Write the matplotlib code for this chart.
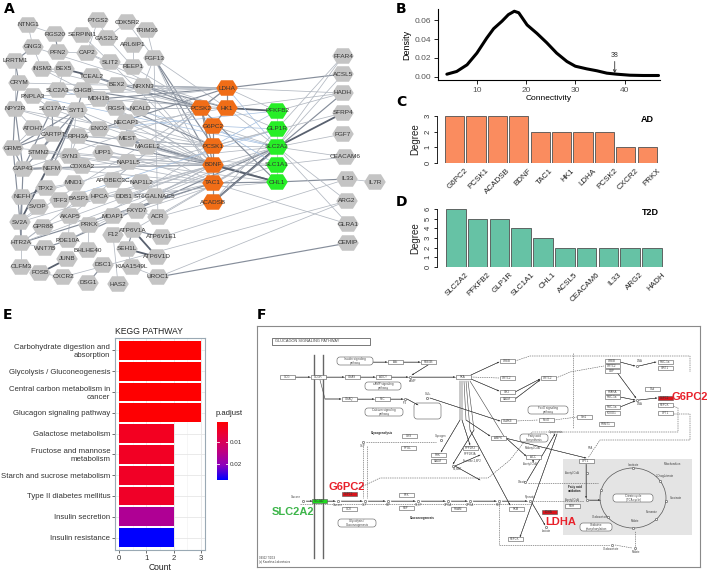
import matplotlib
matplotlib.use("Agg")
import matplotlib.pyplot as plt
import numpy as np
from matplotlib.colors import LinearSegmentedColormap, Normalize
from matplotlib.patches import Rectangle, FancyBboxPatch, Ellipse
from matplotlib.path import Path

plt.rcParams["font.family"] = ["Liberation Sans", "DejaVu Sans"]

W, H = 708, 573

# ---------------- A: PPI network ----------------
grey_nodes = ["NTNG1", "RGS20", "SERPINI1", "PTGS2", "CDK5R2", "TRIM36", "GAS2L3", "ARL6IP1",
              "GNG3", "PFN2", "CAP2", "FGF13", "SLIT2", "REEP1", "LRRTM1", "INSM2", "BEX5", "TCEAL2",
              "CRYM", "SLC2A3", "BEX2", "NRXN3", "CHGB", "PNPLA3", "MDH1B", "NPY2R", "SLC17A7", "SYT1",
              "RGS4", "NCALD", "NECAP1", "ATOH7", "CARTPT", "RPH3A", "ENO2", "MEST", "MAGEL2", "GRM5",
              "STMN2", "SYN3", "UPP1", "NAP1L5", "GAP43", "NEFM", "COX6A2", "APOBEC3C", "NAP1L2", "MND1",
              "TPX2", "NEFH", "TFF3", "BASP1", "HPCA", "DDB1", "ST6GALNAC5", "SVOP", "SV2A", "AKAP5",
              "MOAP1", "FXYD7", "ACR", "GPR88", "PRKX", "ATP6V1A", "ATP6V1E1", "HTR2A", "WNT7B", "PDE10A",
              "F12", "BHLHE40", "SEH1L", "ATP6V1D", "JUNB", "OLFM3", "FOSB", "DSC1", "KIAA1549L", "CXCR2",
              "DSG1", "HAS2", "UROC1",
              "FFAR4", "ACSL5", "HADH", "SFRP4", "FGF7", "CEACAM6", "IL33", "IL7R", "ARG2", "GLRA1", "CEMIP"]
grey_x = [28, 55, 82, 98, 127, 147, 107, 133,
          33, 58, 87, 154, 110, 133, 15, 42, 64, 92,
          19, 58, 117, 143, 83, 33, 99, 15, 52, 77,
          116, 140, 126, 33, 53, 78, 99, 127, 147, 13,
          39, 70, 103, 128, 23, 52, 82, 113, 141, 74,
          46, 22, 60, 79, 99, 124, 155, 38, 20, 70,
          113, 137, 158, 43, 89, 133, 162, 21, 45, 68,
          113, 88, 127, 157, 67, 21, 40, 103, 132, 63,
          88, 118, 158,
          343, 343, 343, 343, 343, 345, 347, 375, 347, 348, 348]
grey_y = [25, 34, 35, 20, 22, 30, 38, 45,
          47, 52, 53, 58, 62, 67, 61, 69, 69, 76,
          83, 90, 85, 86, 90, 96, 99, 109, 109, 110,
          108, 108, 122, 128, 134, 136, 129, 139, 147, 148,
          152, 156, 153, 162, 169, 168, 166, 180, 182, 183,
          188, 197, 200, 199, 196, 196, 196, 207, 222, 216,
          216, 211, 217, 227, 225, 230, 237, 243, 248, 240,
          235, 250, 249, 257, 259, 267, 273, 265, 267, 277,
          283, 284, 277,
          56, 74, 93, 113, 134, 157, 179, 182, 201, 224, 243]
ad_nodes = ["LDHA", "PCSK2", "HK1", "G6PC2", "PCSK1", "BDNF", "TAC1", "ACADSB"]
ad_x = [227, 201, 227, 213, 213, 213, 213, 213]
ad_y = [88, 108, 108, 126, 146, 165, 183, 202]
t2d_nodes = ["PFKFB2", "GLP1R", "SLC2A2", "SLC1A1", "CHL1"]
t2d_x = [277, 277, 277, 277, 277]
t2d_y = [111, 129, 147, 165, 182]

# edges "a|b|weight"  (0 = faint blue, 1 light, 2 medium, 3 strong)
edges = """NTNG1|GNG3|1 GNG3|LRRTM1|2 LRRTM1|CRYM|2 CRYM|NPY2R|2 NPY2R|GRM5|2 GRM5|GAP43|2 GAP43|NEFH|2
NEFH|SV2A|2 SV2A|HTR2A|2 HTR2A|OLFM3|1 CRYM|PNPLA3|1 NPY2R|ATOH7|1 ATOH7|GRM5|1 GAP43|NEFM|3
NEFM|STMN2|1 STMN2|CARTPT|2 CARTPT|SLC17A7|2 SLC17A7|SYT1|2 SYT1|CHGB|2 CHGB|SLC2A3|1 SLC2A3|BEX5|1
BEX5|INSM2|1 INSM2|GNG3|1 PFN2|CAP2|1 RGS20|PFN2|2 RGS20|NTNG1|1 PTGS2|GAS2L3|1 CDK5R2|GAS2L3|1
CDK5R2|FGF13|1 TRIM36|FGF13|1 SERPINI1|SLIT2|1 SLIT2|REEP1|1 ARL6IP1|REEP1|1 TCEAL2|BEX2|2
BEX2|NRXN3|2 TCEAL2|BEX5|3 CHGB|MDH1B|1 MDH1B|RGS4|1 RGS4|NCALD|1 NECAP1|MEST|1 MEST|MAGEL2|2
ENO2|SYT1|2 ENO2|RPH3A|1 RPH3A|SYN3|1 SYN3|STMN2|1 UPP1|NAP1L5|1 COX6A2|NEFM|1 APOBEC3C|NAP1L2|1
MND1|TPX2|1 TPX2|NEFH|2 TFF3|BASP1|1 BASP1|HPCA|1 HPCA|DDB1|1 DDB1|ST6GALNAC5|1 SVOP|SV2A|1
AKAP5|PRKX|1 PRKX|MOAP1|1 MOAP1|FXYD7|1 FXYD7|ACR|1 GPR88|HTR2A|1 PDE10A|WNT7B|2 WNT7B|HTR2A|1
PDE10A|AKAP5|1 F12|SEH1L|1 SEH1L|ATP6V1A|2 ATP6V1A|ATP6V1E1|2 ATP6V1A|ATP6V1D|3 SEH1L|ATP6V1D|3
BHLHE40|PRKX|1 JUNB|FOSB|3 FOSB|OLFM3|1 FOSB|CXCR2|1 DSC1|DSG1|2 KIAA1549L|SEH1L|1 HAS2|F12|1
UROC1|KIAA1549L|1 SYT1|GRM5|2 CARTPT|GRM5|2 SLC17A7|GAP43|2 SV2A|SYT1|3 NEFM|SYT1|2 HTR2A|BASP1|1
LRRTM1|NPY2R|1 NPY2R|GAP43|2 GRM5|SV2A|2 NEFH|HTR2A|2 PNPLA3|SLC17A7|1 INSM2|CHGB|1 CAP2|SLIT2|1
PTGS2|CAP2|1 GAS2L3|REEP1|1 FGF13|ACR|1 FGF13|NRXN3|1 SYT1|STMN2|2 SYT1|SYN3|1 GAP43|STMN2|2
NRXN3|LDHA|2 NRXN3|PCSK2|2 NRXN3|HK1|2 NRXN3|BDNF|1 FGF13|PCSK1|2 FGF13|BDNF|2 FGF13|TAC1|1
FGF13|HK1|1 TCEAL2|PCSK2|2 BEX2|LDHA|1 MDH1B|LDHA|2 MDH1B|HK1|1 SLC2A3|LDHA|1 SLC2A3|SLC2A2|0
CHGB|PCSK2|2 CHGB|PCSK1|2 CHGB|BDNF|1 SYT1|BDNF|1 SLC17A7|BDNF|1 SLC17A7|LDHA|1 RGS4|BDNF|1
RGS4|PCSK2|1 NCALD|HK1|1 NCALD|PCSK1|1 NECAP1|PCSK1|1 NECAP1|BDNF|1 MEST|BDNF|2 MEST|PCSK1|1
MEST|CHL1|2 MAGEL2|PCSK1|1 MAGEL2|BDNF|1 MAGEL2|TAC1|1 ENO2|LDHA|2 ENO2|HK1|1 ENO2|PFKFB2|0
CARTPT|PCSK1|1 CARTPT|TAC1|1 CARTPT|BDNF|2 STMN2|BDNF|1 NEFM|BDNF|2 NEFM|TAC1|1 GAP43|BDNF|1
GAP43|PCSK2|1 COX6A2|SLC2A2|1 UPP1|SLC1A1|1 NAP1L5|BDNF|1 NAP1L2|TAC1|1 ST6GALNAC5|TAC1|1
ST6GALNAC5|SLC2A2|1 ST6GALNAC5|BDNF|1 DDB1|BDNF|1 HPCA|BDNF|1 ACR|ACADSB|1 ACR|SLC2A2|1
FXYD7|SLC1A1|1 MOAP1|TAC1|1 SV2A|PCSK2|1 SV2A|BDNF|1 HTR2A|TAC1|2 HTR2A|SLC2A2|1 GPR88|BDNF|1
PDE10A|BDNF|1 PDE10A|SLC2A2|2 PRKX|PCSK1|1 AKAP5|PCSK2|1 ATP6V1E1|IL33|1 ATP6V1A|SLC2A2|1
CXCR2|ARG2|1 UROC1|CEMIP|2 UROC1|ARG2|1 NPY2R|PCSK1|1 NPY2R|BDNF|1 CRYM|LDHA|1 PNPLA3|SLC2A2|0
PNPLA3|LDHA|1 INSM2|PCSK2|1 GNG3|HK1|1 SLIT2|BDNF|1 REEP1|PCSK2|1 CAP2|PCSK2|1 SYN3|CHL1|1
SYN3|TAC1|1 RPH3A|PCSK1|1 TFF3|GLP1R|0 APOBEC3C|LDHA|1 BASP1|CHL1|1 NEFH|PCSK1|1 GRM5|BDNF|1
LDHA|HK1|2 LDHA|PCSK2|2 PCSK2|PCSK1|2 PCSK2|BDNF|2 PCSK1|BDNF|2 BDNF|TAC1|2 TAC1|ACADSB|2
G6PC2|PCSK1|2 G6PC2|HK1|2 HK1|PFKFB2|3 HK1|SLC2A2|1 HK1|GLP1R|1 LDHA|PFKFB2|1 LDHA|SLC2A2|0
G6PC2|SLC2A2|1 G6PC2|GLP1R|0 PCSK1|GLP1R|1 PCSK1|SLC2A2|1 BDNF|CHL1|3 BDNF|SLC2A2|1 BDNF|SLC1A1|1
TAC1|CHL1|2 TAC1|SLC2A2|1 ACADSB|SLC2A2|3 ACADSB|GLP1R|1 PCSK2|CHL1|2 PFKFB2|GLP1R|1
GLP1R|SLC2A2|1 SLC2A2|SLC1A1|1 SLC1A1|CHL1|1 PCSK1|PFKFB2|0 G6PC2|SLC1A1|0
LDHA|ACSL5|2 LDHA|HADH|1 HK1|HADH|1 PFKFB2|HADH|1 SLC2A2|FFAR4|1 GLP1R|FFAR4|1 SLC2A2|ACSL5|1
SLC2A2|SFRP4|3 SLC2A2|FGF7|1 SLC2A2|CEACAM6|1 SLC1A1|CEACAM6|1 CHL1|IL33|2 IL33|IL7R|1
SLC2A2|GLRA1|1 SLC2A2|ARG2|1 ACADSB|HADH|2 TAC1|GLRA1|1 PCSK1|SFRP4|1"""
edge_list = [e.split("|") for e in edges.split()]

# ---------------- B: connectivity density ----------------
conn_x = [3.9, 5.9, 8.0, 10.0, 12.0, 13.4, 15.1, 16.4, 17.6, 18.5, 20.2, 22.2, 24.2, 26.2,
          28.3, 30.0, 32.3, 34.4, 36.4, 38.4, 41.1, 43.8, 46.9]
conn_density = [0.0025, 0.0054, 0.0125, 0.025, 0.041, 0.051, 0.059, 0.066, 0.0696, 0.068,
                0.055, 0.046, 0.036, 0.025, 0.016, 0.011, 0.0082, 0.0061, 0.0036, 0.0025,
                0.0014, 0.0011, 0.0011]

# ---------------- C / D: degree bars ----------------
ad_genes = ["G6PC2", "PCSK1", "ACADSB", "BDNF", "TAC1", "HK1", "LDHA", "PCSK2", "CXCR2", "PRKX"]
ad_degree = [3, 3, 3, 3, 2, 2, 2, 2, 1, 1]
t2d_genes = ["SLC2A2", "PFKFB2", "GLP1R", "SLC1A1", "CHL1", "ACSL5", "CEACAM6", "IL33", "ARG2", "HADH"]
t2d_degree = [6, 5, 5, 4, 3, 2, 2, 2, 2, 2]

# ---------------- E: KEGG enrichment ----------------
kegg_terms = ["Carbohydrate digestion and\nabsorption", "Glycolysis / Gluconeogenesis",
              "Central carbon metabolism in\ncancer", "Glucagon signaling pathway",
              "Galactose metabolism", "Fructose and mannose\nmetabolism",
              "Starch and sucrose metabolism", "Type II diabetes mellitus",
              "Insulin secretion", "Insulin resistance"]
kegg_count = [3, 3, 3, 3, 2, 2, 2, 2, 2, 2]
kegg_padj = [0.0009, 0.0009, 0.0011, 0.0013, 0.0045, 0.0048, 0.0050, 0.0052, 0.0165, 0.0273]


fig = plt.figure(figsize=(W / 100, H / 100), dpi=100)


def px_axes(x0, y0, x1, y1):
    return fig.add_axes([x0 / W, 1 - y1 / H, (x1 - x0) / W, (y1 - y0) / H])


def panel_label(x, y, s):
    fig.text(x / W, 1 - y / H, s, fontsize=10, fontweight="bold", va="top", ha="left",
             family="DejaVu Sans")


# ---- A
ax = px_axes(0, 0, 395, 300)
ax.set_xlim(0, 395)
ax.set_ylim(300, 0)
ax.axis("off")
pos = {}
for names, xs, ys in [(grey_nodes, grey_x, grey_y), (ad_nodes, ad_x, ad_y), (t2d_nodes, t2d_x, t2d_y)]:
    assert len(names) == len(xs) == len(ys)
    for n, x, y in zip(names, xs, ys):
        pos[n] = (x, y)
edge_style = {"0": ("#a4bfe0", 0.5), "1": ("#b2b8c1", 0.55), "2": ("#868e9b", 0.85), "3": ("#59616f", 1.3)}
for a, b, w in edge_list:
    c, lw = edge_style[w]
    ax.plot([pos[a][0], pos[b][0]], [pos[a][1], pos[b][1]], color=c, lw=lw, zorder=1,
            solid_capstyle="round")
hexagon = Path([(-1, 0), (-0.55, 0.72), (0.55, 0.72), (1, 0), (0.55, -0.72), (-0.55, -0.72), (-1, 0)])
for names, xs, ys, col in [(grey_nodes, grey_x, grey_y, "#c4c4c4"),
                           (ad_nodes, ad_x, ad_y, "#f06d17"),
                           (t2d_nodes, t2d_x, t2d_y, "#27ee27")]:
    ax.scatter(xs, ys, s=15.5 ** 2, marker=hexagon, c=col, edgecolors="none", zorder=2)
    for n, x, y in zip(names, xs, ys):
        ax.text(x, y, n, fontsize=4.6, ha="center", va="center", color="#333333", zorder=3)
panel_label(4, 2, "A")

# ---- B
ax = px_axes(438, 9, 660, 80)
ax.plot(conn_x, conn_density, color="black", lw=2.2, solid_capstyle="round")
ax.set_xlim(2.1, 47.2)
ax.set_ylim(-0.0037, 0.072)
for s in ["top", "right"]:
    ax.spines[s].set_visible(False)
ax.set_xticks([10, 20, 30, 40])
ax.set_yticks([0, 0.02, 0.04, 0.06])
ax.set_yticklabels(["0.00", "0.02", "0.04", "0.06"])
ax.tick_params(labelsize=6, colors="#555555", length=3, width=0.6, pad=2)
ax.tick_params(axis="both", which="both", color="black")
ax.set_xlabel("Connectivity", fontsize=6, labelpad=1)
ax.set_ylabel("Density", fontsize=6.5, labelpad=2)
ax.annotate("38", xy=(38, 0.0035), xytext=(38, 0.019), fontsize=5, ha="center", va="bottom",
            color="#333333", arrowprops=dict(arrowstyle="->", lw=0.6, color="#333333",
                                             shrinkA=0, shrinkB=0, mutation_scale=5))
panel_label(396, 2, "B")


# ---- C / D
def degree_bars(box, genes, vals, color, ymax, tag, xlim):
    ax = px_axes(*box)
    ax.bar(range(len(genes)), vals, width=0.9, color=color, edgecolor="#505050", lw=0.6)
    ax.set_xlim(*xlim)
    ax.set_ylim(0, ymax)
    for s in ["top", "right", "bottom"]:
        ax.spines[s].set_visible(False)
    ax.spines["left"].set_linewidth(0.6)
    ax.spines["left"].set_bounds(0, ymax)
    ax.set_yticks(range(ymax + 1))
    ax.set_yticklabels([str(i) for i in range(ymax + 1)], rotation=90, va="center",
                       fontsize=5.5, color="#333333")
    ax.tick_params(axis="y", length=2.5, width=0.6, pad=1.5)
    # labels end near the right edge of each bar
    ax.set_xticks(np.arange(len(genes)) + 0.45)
    ax.set_xticklabels(genes, rotation=45, ha="right", rotation_mode="anchor", fontsize=5.8,
                       color="#222222")
    ax.tick_params(axis="x", length=0, pad=3)
    ax.set_ylabel("Degree", fontsize=7, labelpad=3, color="#222222")
    ax.text(0.97, 1.02, tag, transform=ax.transAxes, fontsize=6.5, fontweight="bold",
            ha="right", va="top")
    return ax


degree_bars((437, 116, 660, 163), ad_genes, ad_degree, "#fa8c5f", 3, "AD", (-0.82, 9.6))
panel_label(396, 95, "C")
degree_bars((437, 209, 666, 267), t2d_genes, t2d_degree, "#66c2a5", 6, "T2D", (-0.86, 9.64))
panel_label(396, 195, "D")

# ---- E
ax = px_axes(115, 338, 205, 550)
cmap = LinearSegmentedColormap.from_list("padj", ["#ff0000", "#e8003e", "#c2007c", "#8e00bc", "#0000ff"])
norm = Normalize(min(kegg_padj), max(kegg_padj))
ypos = np.arange(len(kegg_terms))[::-1] + 1
ax.set_axisbelow(True)
ax.barh(ypos, kegg_count, height=0.9, color=cmap(norm(np.array(kegg_padj))), zorder=2)
ax.set_xlim(-0.15, 3.15)
ax.set_ylim(0.4, len(kegg_terms) + 0.6)
ax.set_xticks([0, 1, 2, 3])
ax.set_xticks([0.5, 1.5, 2.5], minor=True)
ax.set_yticks(ypos)
ax.set_yticklabels(kegg_terms, fontsize=5.6, color="#333333", multialignment="right")
ax.grid(True, which="major", color="#e6e6e6", lw=0.6)
ax.grid(True, which="minor", axis="x", color="#f0f0f0", lw=0.4)
ax.tick_params(which="major", length=2, width=0.5, color="#333333", labelsize=5.6, pad=1.5)
ax.tick_params(which="minor", length=0)
ax.tick_params(axis="x", labelcolor="#333333")
for s in ax.spines.values():
    s.set_color("#9aa9b4")
    s.set_linewidth(0.8)
ax.set_xlabel("Count", fontsize=6.2, labelpad=0.5, color="#222222")
ax.set_title("KEGG PATHWAY", fontsize=6.2, loc="left", pad=3, color="#222222")

cax = px_axes(217, 422, 228, 480)
grad = np.linspace(norm.vmin, norm.vmax, 200).reshape(-1, 1)
cax.imshow(grad, aspect="auto", cmap=cmap, norm=norm, extent=[0, 1, norm.vmax, norm.vmin])
cax.set_xlim(0, 1)
cax.set_ylim(norm.vmax, norm.vmin)
for v in [0.01, 0.02]:
    cax.plot([0, 0.2], [v, v], color="white", lw=0.6)
    cax.plot([0.8, 1], [v, v], color="white", lw=0.6)
cax.set_xticks([])
cax.yaxis.tick_right()
cax.set_yticks([0.01, 0.02])
cax.set_yticklabels(["0.01", "0.02"], fontsize=4.5, color="#333333")
cax.tick_params(length=0, pad=1.5)
for s in cax.spines.values():
    s.set_visible(False)
fig.text(216 / W, 1 - 417 / H, "p.adjust", fontsize=5.5, color="#222222", va="bottom")
panel_label(3, 308, "E")

# ---- F: KEGG glucagon signalling map (schematic)
f_boxes = [("GCG", 287, 377), ("GCGR", 318, 377), ("GNAS", 352, 377), ("ADCY", 383, 377),
           ("Akt", 395, 362), ("PDE3B", 428, 362), ("GNAQ", 349, 399), ("PLC", 382, 399),
           ("PKA", 463, 377), ("CREB", 507, 361), ("CRTC2", 507, 378), ("SIK2", 507, 392),
           ("CALM", 507, 399), ("CRTC2", 548, 378), ("CREB", 612, 361), ("CRTC2", 612, 366),
           ("CBP", 612, 371), ("PGC-1a", 665, 362), ("SIRT1", 665, 368), ("PPARA", 612, 392),
           ("PGC-1a", 612, 397), ("PGC-1a", 612, 407), ("FOXO1", 612, 413), ("PRMT1", 606, 424),
           ("Sirt1", 584, 417), ("Cad", 652, 389), ("PEPCK", 665, 405), ("CPT1", 665, 413),
           ("CaMKII", 508, 421), ("FoxO", 546, 420), ("AMPK", 498, 438), ("ACC", 533, 457),
           ("GYS", 409, 436), ("PYGL", 408, 448), ("PHK", 438, 455), ("CALM", 438, 461),
           ("PPP1R3", 470, 448), ("GCK", 349, 509), ("PFK", 406, 495), ("FBP", 406, 508),
           ("PGAM", 458, 509), ("PKM", 516, 509), ("PEPCK", 515, 539), ("CPT1", 586, 461),
           ("PDH", 572, 506)]
f_hits = [("SLC2A2", 319, 501, "#1fdb1f"), ("G6PC2", 349, 494, "#d9141b"),
          ("G6PC2", 665, 398, "#d9141b"), ("LDHA", 549, 512, "#d9141b")]
f_hit_labels = [("SLC2A2", 293, 512, "#3db54a"), ("G6PC2", 347, 487, "#e8202a"),
                ("G6PC2", 690, 397, "#e8202a"), ("LDHA", 561, 522, "#e8202a")]
f_maps = [("Insulin signaling\npathway", 355, 361, 36), ("cAMP signaling\npathway", 383, 386, 36),
          ("Calcium signaling\npathway", 384, 412, 38), ("FoxO signaling\npathway", 548, 410, 40),
          ("Fatty acid\nbiosynthesis", 534, 438, 28), ("Glycolysis /\nGluconeogenesis", 357, 523, 38),
          ("Oxidative\nphosphorylation", 596, 527, 32), ("Citrate cycle\n(TCA cycle)", 633, 498, 40)]
f_cpds = [(410, 377), (405, 399), (427, 398), (363, 442), (441, 440), (453, 466), (303, 501),
          (338, 501), (365, 501), (388, 501), (418, 501), (448, 501), (470, 501), (499, 501),
          (530, 501), (546, 527), (637, 366), (637, 400), (525, 482), (587, 473), (587, 500),
          (612, 545), (635, 548)]
f_texts = [("cAMP", 413, 381), ("IP3", 405, 403), ("Ca2+", 428, 394), ("Glycogen", 441, 436),
           ("G1P", 363, 446), ("Glucose", 296, 497), ("Glucose", 338, 505), ("G6P", 365, 505),
           ("F6P", 388, 505), ("F1,6P", 418, 505), ("3-PGA", 448, 505), ("2-PGA", 470, 505),
           ("PEP", 499, 505), ("Pyruvate", 530, 497), ("Lactate", 546, 531), ("Malonyl-CoA", 533, 448),
           ("Acetyl-CoA", 530, 464), ("Lipogenesis", 556, 432), ("Citrate", 522, 482),
           ("Acetyl-CoA", 572, 473), ("Acetyl-CoA", 572, 500), ("Oxaloacetate", 600, 517),
           ("Mitochondrion", 672, 464), ("Isocitrate", 633, 465), ("2-Oxoglutarate", 665, 476),
           ("Succinate", 676, 498), ("Fumarate", 652, 512), ("Malate", 635, 521),
           ("Oxaloacetate", 611, 549), ("Malate", 636, 552), ("DNA", 640, 361), ("DNA", 640, 404),
           ("PPP1R3A", 470, 454), ("Fructose-2,6P2", 472, 461), ("F2,6BP", 457, 469), ("FFA", 590, 448)]
f_bold = [("Glycogenolysis", 382, 433), ("Gluconeogenesis", 422, 518), ("Fatty acid\noxidation", 575, 489)]
f_solid = [[(295, 377), (310, 377)], [(326, 377), (344, 377)], [(360, 377), (375, 377)],
           [(391, 377), (408, 377)], [(412, 377), (455, 377)], [(320, 380), (325, 399), (341, 399)],
           [(357, 399), (374, 399)], [(390, 399), (403, 399)], [(407, 399), (418, 405)],
           [(430, 398), (500, 421)], [(373, 362), (387, 362)], [(403, 362), (420, 362)],
           [(428, 365), (412, 375)], [(471, 375), (499, 362)], [(471, 379), (499, 391)],
           [(515, 399), (540, 380)], [(515, 392), (540, 379)], [(620, 362), (635, 366)],
           [(639, 366), (656, 362)], [(620, 397), (635, 400)], [(620, 407), (635, 401)],
           [(639, 400), (657, 398)], [(616, 371), (636, 398)],
           [(460, 381), (460, 420), (441, 452)], [(462, 381), (462, 420), (470, 445)],
           [(464, 381), (466, 420), (490, 436)], [(466, 381), (470, 430), (510, 505)],
           [(468, 381), (474, 430), (453, 464)], [(470, 381), (505, 438), (586, 458)],
           [(306, 501), (312, 501)], [(327, 501), (335, 501)], [(341, 501), (362, 501)],
           [(368, 501), (385, 501)], [(391, 501), (415, 501)], [(421, 501), (445, 501)],
           [(451, 501), (467, 501)], [(473, 501), (496, 501)], [(502, 501), (527, 501)],
           [(532, 503), (545, 525)], [(506, 438), (526, 456)], [(527, 481), (555, 434)],
           [(557, 434), (520, 537)], [(586, 464), (586, 498)], [(589, 500), (600, 500)],
           [(533, 460), (533, 462)], [(455, 466), (480, 455)], [(455, 466), (480, 480)]]
f_dashed = [[(471, 377), (499, 378)], [(556, 378), (570, 372), (604, 366)],
            [(515, 361), (530, 356), (690, 356), (690, 372)], [(573, 353), (573, 428)],
            [(516, 421), (538, 420)], [(554, 420), (577, 417)],
            [(355, 490), (380, 478), (488, 478), (510, 460), (532, 432), (678, 432), (678, 408), (673, 406)],
            [(672, 414), (690, 414), (690, 440), (600, 440), (588, 458)],
            [(366, 442), (436, 442)], [(363, 446), (363, 498)], [(367, 446), (367, 498)],
            [(300, 504), (530, 504)], [(499, 505), (499, 545), (610, 545)],
            [(528, 483), (598, 483)], [(533, 501), (584, 501)], [(615, 545), (632, 548)],
            [(635, 546), (635, 531)]]
tca_angles = [90, 35, -5, -45, -90, -140, 165]

ax = px_axes(257, 326, 700, 567)
ax.set_xlim(257, 700)
ax.set_ylim(567, 326)
ax.set_xticks([])
ax.set_yticks([])
for s in ax.spines.values():
    s.set_color("#8a8a8a")
    s.set_linewidth(0.8)
ax.add_patch(Rectangle((563, 459), 129, 76, fc="#e4e4e4", ec="none", zorder=0))
ax.add_patch(Rectangle((272, 338), 98, 7, fc="white", ec="#444444", lw=0.5))
ax.text(275, 341.5, "GLUCAGON SIGNALING PATHWAY", fontsize=2.8, va="center", color="#444444")
for xm in [314, 323]:
    ax.plot([xm, xm], [355, 558], color="#666666", lw=1.0)
ax.add_patch(FancyBboxPatch((414, 403), 27, 16, boxstyle="round,pad=0,rounding_size=3",
                            fc="none", ec="#555555", lw=0.4))
for pts in f_solid:
    xs, ys = zip(*pts)
    ax.plot(xs, ys, color="#444444", lw=0.4)
    ax.annotate("", xy=pts[-1], xytext=pts[-2],
                arrowprops=dict(arrowstyle="-|>", lw=0.3, color="#333333", mutation_scale=2.2,
                                shrinkA=0, shrinkB=0))
for pts in f_dashed:
    xs, ys = zip(*pts)
    ax.plot(xs, ys, color="#555555", lw=0.4, ls=(0, (2.5, 1.5)))
for lab, x, y in f_boxes:
    ax.add_patch(Rectangle((x - 7.5, y - 2.3), 15, 4.6, fc="white", ec="#555555", lw=0.4, zorder=3))
    ax.text(x, y, lab, fontsize=2.1, ha="center", va="center", color="#444444", zorder=4)
for lab, x, y, c in f_hits:
    ax.add_patch(Rectangle((x - 7.5, y - 2.3), 15, 4.6, fc=c, ec="#555555", lw=0.4, zorder=3))
    ax.text(x, y, lab, fontsize=2.1, ha="center", va="center", color="#333333", zorder=4)
for lab, x, y, w in f_maps:
    ax.add_patch(FancyBboxPatch((x - w / 2, y - 4), w, 8, boxstyle="round,pad=0,rounding_size=3",
                                fc="white", ec="#555555", lw=0.4, zorder=3))
    ax.text(x, y, lab, fontsize=2.1, ha="center", va="center", color="#444444", zorder=4,
            linespacing=1.0)
ax.add_patch(Ellipse((633, 498), 66, 60, fc="none", ec="#555555", lw=0.5, zorder=2))
for a in tca_angles:
    ax.plot(633 + 33 * np.cos(np.radians(a)), 498 - 30 * np.sin(np.radians(a)), "o", ms=1.6,
            mfc="white", mec="#444444", mew=0.4, zorder=5)
cx, cy = zip(*f_cpds)
ax.plot(cx, cy, "o", ms=1.6, mfc="white", mec="#444444", mew=0.4, ls="none", zorder=5)
for lab, x, y in f_texts:
    ax.text(x, y, lab, fontsize=2.0, ha="center", va="center", color="#444444", zorder=4)
for lab, x, y in f_bold:
    ax.text(x, y, lab, fontsize=2.2, ha="center", va="center", color="#222222", zorder=4,
            fontweight="bold", linespacing=1.0)
for lab, x, y, c in f_hit_labels:
    ax.text(x, y, lab, fontsize=8, ha="center", va="center", color=c, fontweight="bold", zorder=6)
ax.text(259, 564, "04922 7/2/19\n(c) Kanehisa Laboratories", fontsize=2, color="#444444",
        va="bottom", linespacing=1.0)
panel_label(257, 308, "F")

fig.savefig("out.png", dpi=100)
